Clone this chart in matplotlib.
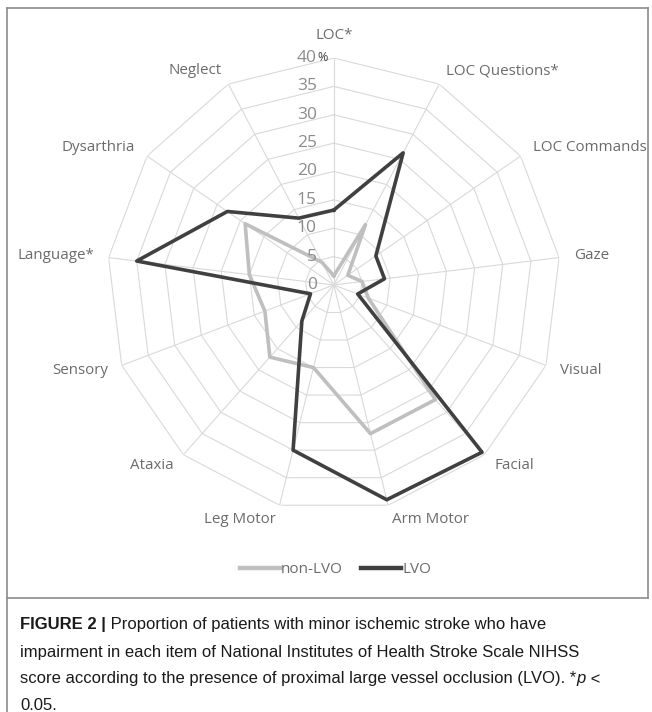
import numpy as np
import matplotlib.pyplot as plt
from matplotlib.lines import Line2D
from matplotlib.transforms import offset_copy

categories = ["LOC*", "LOC Questions*", "LOC Commands", "Gaze", "Visual", "Facial",
              "Arm Motor", "Leg Motor", "Ataxia", "Sensory", "Language*",
              "Dysarthria", "Neglect"]
non_lvo = [1.6, 12, 3, 5, 6.5, 27, 27, 15, 17, 13, 15, 19, 4.5]
lvo = [13.2, 26.3, 9, 9, 4.5, 39.4, 39, 30, 8.5, 4.4, 35, 22.8, 13.3]
r_ticks = [0, 5, 10, 15, 20, 25, 30, 35, 40]

label_font = "Open Sans"
cap_font = ["Liberation Sans Narrow", "Liberation Sans"]

n = len(categories)
theta = np.arange(n) * 2 * np.pi / n
theta_c = np.append(theta, theta[0])

fig = plt.figure(figsize=(6.52, 7.12), dpi=100)
ax = fig.add_axes([0.164, 0.281, 0.696, 0.6376], projection="polar")
ax.set_theta_zero_location("N")
ax.set_theta_direction(-1)
ax.set_ylim(0, 40)
ax.grid(False)
ax.spines["polar"].set_visible(False)
ax.set_xticks([])
ax.set_yticks([])

# polygon grid and spokes
for r in r_ticks[1:]:
    ax.plot(theta_c, [r] * (n + 1), color="#d9d9d9", lw=0.8, zorder=1)
for t in theta:
    ax.plot([t, t], [0, 40], color="#d9d9d9", lw=0.8, zorder=1)

ax.plot(theta_c, np.append(non_lvo, non_lvo[0]), color="#bfbfbf", lw=2.6, zorder=3)
ax.plot(theta_c, np.append(lvo, lvo[0]), color="#404040", lw=2.6, zorder=4)

# radial tick labels
tr = offset_copy(ax.transData, fig=fig, x=-17, y=0, units="dots")
for r in r_ticks:
    ax.text(0, r, str(r), transform=tr, ha="right", va="center",
            fontsize=12.5, color="#8c8c8c", family=label_font)
tr2 = offset_copy(ax.transData, fig=fig, x=-16, y=1, units="dots")
ax.text(0, 40, "%", transform=tr2, ha="left", va="center",
        fontsize=9, color="#404040", family=label_font)

# category labels
for t, lab in zip(theta, categories):
    deg = np.degrees(t)
    if deg == 0:
        ha, rr = "center", 44
    elif deg < 180:
        ha, rr = "left", 42.6
    else:
        ha, rr = "right", 42.6
    ax.text(t, rr, lab, ha=ha, va="center", fontsize=10.9,
            color="#6b6b6b", family=label_font)

handles = [Line2D([], [], color="#bfbfbf", lw=3.2),
           Line2D([], [], color="#404040", lw=3.2)]
leg = fig.legend(handles, ["non-LVO", "LVO"], loc="center",
                 bbox_to_anchor=(0.515, 0.2), ncol=2, frameon=False,
                 handlelength=2.6, handletextpad=0.1, columnspacing=1.2,
                 prop={"family": label_font, "size": 11})
for txt in leg.get_texts():
    txt.set_color("#6b6b6b")

# frame
fig.add_artist(Line2D([0.011, 0.011], [0, 0.989], color="#8c8c8c", lw=1.2))
fig.add_artist(Line2D([0.011, 0.994], [0.989, 0.989], color="#8c8c8c", lw=1.2))
fig.add_artist(Line2D([0.994, 0.994], [0.16, 0.989], color="#8c8c8c", lw=1.2))
fig.add_artist(Line2D([0.011, 0.994], [0.16, 0.16], color="#8c8c8c", lw=1.2))

# caption
cs = 12
x0 = 20 / 652
b = fig.text(x0, 1 - 625 / 712, "FIGURE 2 |", fontsize=cs, fontweight="bold",
             family=cap_font, va="center", color="#1a1a1a")
plt.annotate(" Proportion of patients with minor ischemic stroke who have",
             xy=(1, 0.5), xycoords=b, va="center", fontsize=cs,
             family=cap_font, color="#1a1a1a", annotation_clip=False)
fig.text(x0, 1 - 652 / 712,
         "impairment in each item of National Institutes of Health Stroke Scale NIHSS",
         fontsize=cs, family=cap_font, va="center", color="#1a1a1a")
c = fig.text(x0, 1 - 679 / 712,
             "score according to the presence of proximal large vessel occlusion (LVO). *",
             fontsize=cs, family=cap_font, va="center", color="#1a1a1a")
p = plt.annotate("p", xy=(1, 0.5), xycoords=c, va="center", fontsize=cs,
                 family=cap_font, style="italic", color="#1a1a1a", annotation_clip=False)
plt.annotate(" <", xy=(1, 0.5), xycoords=p, va="center", fontsize=cs,
             family=cap_font, color="#1a1a1a", annotation_clip=False)
fig.text(x0, 1 - 705 / 712, "0.05.", fontsize=cs, family=cap_font,
         va="center", color="#1a1a1a")

plt.savefig("out.png", dpi=100)
